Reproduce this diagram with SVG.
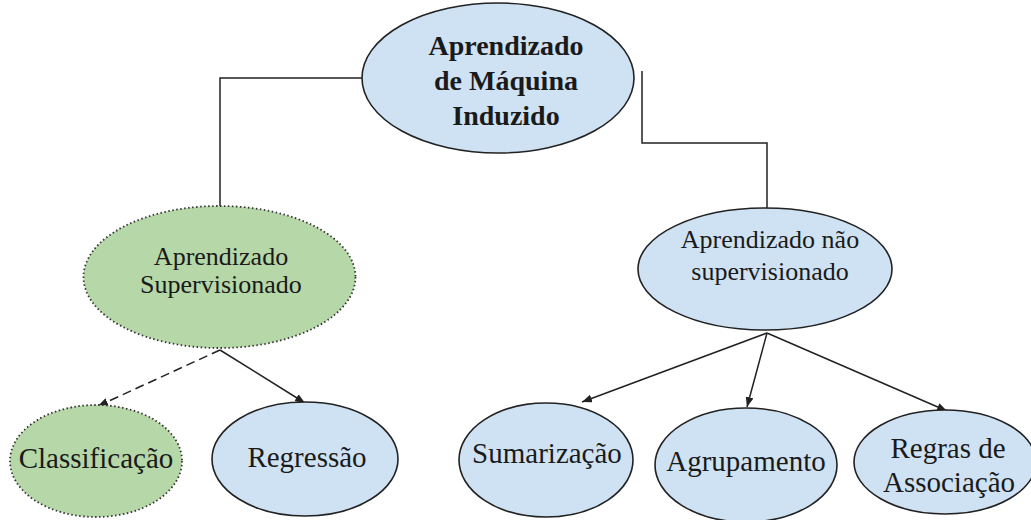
<svg xmlns="http://www.w3.org/2000/svg" width="1031" height="520" viewBox="0 0 1031 520">
  <style>
    .blue { fill: #cfe2f3; stroke: #222; stroke-width: 1.6; }
    .green { fill: #b6d7a8; stroke: #333; stroke-width: 1.8; stroke-dasharray: 1.5 2.5; }
    .t { font-family: 'Liberation Serif', 'DejaVu Serif', 'Times New Roman', Times, serif; fill: #1a1a1a; text-anchor: middle; }
    .conn { fill: none; stroke: #222; stroke-width: 1.5; }
  </style>
  <defs>
    <marker id="arr" viewBox="0 0 10 8" refX="10" refY="4" markerWidth="10" markerHeight="8" markerUnits="userSpaceOnUse" orient="auto">
      <path d="M0,0 L10,4 L0,8 z" fill="#222"/>
    </marker>
  </defs>
  <rect width="1031" height="520" fill="#ffffff"/>

  <g id="connectors">
    <polyline class="conn" points="362,78 220,78 220,207"/>
    <polyline class="conn" points="642,71 642,143 767,143 767,208"/>
    <line class="conn" x1="220" y1="350" x2="98" y2="406" stroke-dasharray="9 5" marker-end="url(#arr)"/>
    <line class="conn" x1="220" y1="350" x2="305" y2="403" marker-end="url(#arr)"/>
    <line class="conn" x1="767" y1="333" x2="582" y2="402" marker-end="url(#arr)"/>
    <line class="conn" x1="767" y1="333" x2="747" y2="407" marker-end="url(#arr)"/>
    <line class="conn" x1="767" y1="333" x2="947" y2="411" marker-end="url(#arr)"/>
  </g>

  <g id="node-root" font-family="Liberation Serif, serif">
    <ellipse class="blue" cx="498" cy="78" rx="136" ry="75"/>
    <text class="t" x="506" y="55" font-size="28" font-weight="bold">Aprendizado</text>
    <text class="t" x="506" y="90" font-size="28" font-weight="bold">de Máquina</text>
    <text class="t" x="506" y="125" font-size="28" font-weight="bold">Induzido</text>
  </g>

  <g id="node-supervisionado">
    <ellipse class="green" cx="219.5" cy="277" rx="136" ry="71"/>
    <text class="t" x="221" y="265" font-size="26">Aprendizado</text>
    <text class="t" x="221" y="293" font-size="26">Supervisionado</text>
  </g>

  <g id="node-nao-supervisionado">
    <ellipse class="blue" cx="765" cy="269" rx="127" ry="61"/>
    <text class="t" x="770" y="248" font-size="26">Aprendizado não</text>
    <text class="t" x="770" y="280" font-size="26">supervisionado</text>
  </g>

  <g id="node-classificacao">
    <ellipse class="green" cx="96" cy="461" rx="86" ry="56"/>
    <text class="t" x="96" y="468" font-size="29">Classificação</text>
  </g>

  <g id="node-regressao">
    <ellipse class="blue" cx="305" cy="459" rx="93" ry="57"/>
    <text class="t" x="307" y="467" font-size="29">Regressão</text>
  </g>

  <g id="node-sumarizacao">
    <ellipse class="blue" cx="546" cy="460" rx="87" ry="57"/>
    <text class="t" x="547" y="463" font-size="29">Sumarização</text>
  </g>

  <g id="node-agrupamento">
    <ellipse class="blue" cx="746" cy="465" rx="91" ry="57"/>
    <text class="t" x="746" y="471" font-size="29">Agrupamento</text>
  </g>

  <g id="node-regras">
    <ellipse class="blue" cx="945" cy="462" rx="91" ry="52"/>
    <text class="t" x="948" y="458" font-size="29">Regras de</text>
    <text class="t" x="949" y="492" font-size="29">Associação</text>
  </g>
</svg>
